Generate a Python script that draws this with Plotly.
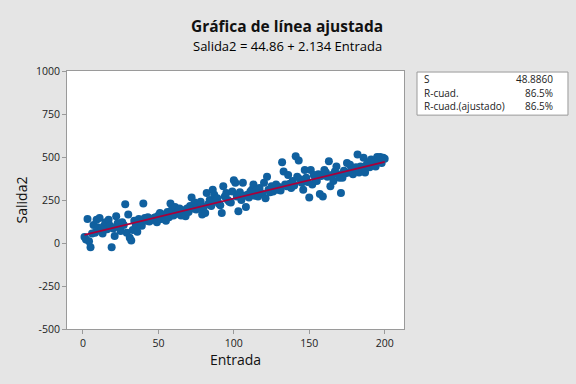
import plotly.graph_objects as go

# ---- data ----
entrada = [
    1, 2, 3, 4, 5, 6, 7, 8, 9, 10,
    11, 12, 13, 14, 15, 16, 17, 18, 19, 20,
    21, 22, 23, 24, 25, 26, 27, 28, 29, 30,
    31, 32, 33, 34, 35, 36, 37, 38, 39, 40,
    41, 42, 43, 44, 45, 46, 47, 48, 49, 50,
    51, 52, 53, 54, 55, 56, 57, 58, 59, 60,
    61, 62, 63, 64, 65, 66, 67, 68, 69, 70,
    71, 72, 73, 74, 75, 76, 77, 78, 79, 80,
    81, 82, 83, 84, 85, 86, 87, 88, 89, 90,
    91, 92, 93, 94, 95, 96, 97, 98, 99, 100,
    101, 102, 103, 104, 105, 106, 107, 108, 109, 110,
    111, 112, 113, 114, 115, 116, 117, 118, 119, 120,
    121, 122, 123, 124, 125, 126, 127, 128, 129, 130,
    131, 132, 133, 134, 135, 136, 137, 138, 139, 140,
    141, 142, 143, 144, 145, 146, 147, 148, 149, 150,
    151, 152, 153, 154, 155, 156, 157, 158, 159, 160,
    161, 162, 163, 164, 165, 166, 167, 168, 169, 170,
    171, 172, 173, 174, 175, 176, 177, 178, 179, 180,
    181, 182, 183, 184, 185, 186, 187, 188, 189, 190,
    191, 192, 193, 194, 195, 196, 197, 198, 199, 200,
]
salida2 = [
    35, 20, 140, 10, -25, 55, 105, 60, 135, 90,
    145, 70, 55, 100, 120, 80, 135, 100, -25, 85,
    40, 155, 115, 90, 70, 120, 105, 225, 60, 165,
    30, 15, 75, 130, 105, 65, 140, 120, 100, 230,
    145, 130, 150, 125, 140, 135, 145, 150, 120, 160,
    175, 140, 155, 165, 130, 180, 150, 230, 195, 160,
    210, 170, 185, 200, 160, 190, 175, 155, 200, 180,
    215, 265, 200, 235, 195, 220, 205, 240, 165, 210,
    175, 290, 225, 250, 215, 310, 280, 245, 260, 230,
    220, 175, 330, 270, 290, 250, 240, 235, 300, 365,
    350, 270, 185, 295, 250, 350, 275, 210, 280, 265,
    300, 310, 340, 275, 305, 270, 320, 290, 285, 350,
    260, 385, 310, 295, 330, 300, 320, 340, 310, 325,
    305, 470, 415, 340, 330, 395, 345, 320, 360, 335,
    505, 385, 480, 370, 350, 310, 425, 380, 355, 265,
    425, 340, 395, 375, 360, 400, 285, 390, 270, 425,
    410, 385, 475, 330, 395, 360, 415, 445, 400, 380,
    290, 380, 420, 405, 465, 410, 455, 425, 400, 430,
    440, 515, 410, 445, 430, 495, 410, 455, 470, 440,
    485, 455, 470, 445, 500, 480, 500, 465, 495, 490,
]
intercept = 44.86
slope = 2.134
stat_labels = ["S", "R-cuad.", "R-cuad.(ajustado)"]
stat_values = ["48.8860", "86.5%", "86.5%"]
x_ticks = [0, 50, 100, 150, 200]
y_ticks = [-500, -250, 0, 250, 500, 750, 1000]
y_tick_text = ["-500", "-250", "0", "250", "500", "750", "1000"]

FONT = "Open Sans"
fig = go.Figure()

fig.add_trace(go.Scatter(
    x=entrada, y=salida2, mode="markers",
    marker=dict(size=8, color="#10609f", line=dict(width=0)),
    showlegend=False, hoverinfo="skip",
))
x0, x1 = min(entrada), max(entrada)
fig.add_trace(go.Scatter(
    x=[x0, x1], y=[intercept + slope * x0, intercept + slope * x1],
    mode="lines", line=dict(color="#a8003a", width=1.8),
    showlegend=False, hoverinfo="skip",
))

axis_common = dict(
    showgrid=False, zeroline=False, showline=True, linecolor="#9a9a9a",
    linewidth=1, mirror=True, ticks="outside", ticklen=4, tickcolor="#9a9a9a",
    tickfont=dict(family=FONT, size=10.5, color="#222222"), automargin=False,
)
fig.update_xaxes(
    range=[-10.6, 212.8], tickvals=x_ticks,
    title=dict(text="Entrada", font=dict(family=FONT, size=14, color="#111111"), standoff=4),
    **axis_common,
)
fig.update_yaxes(
    range=[-500, 1000], tickvals=y_ticks, ticktext=y_tick_text,
    title=dict(text="Salida2", font=dict(family=FONT, size=14, color="#111111"), standoff=4),
    **axis_common,
)

shapes = [dict(type="rect", xref="paper", yref="paper",
               x0=1.0386, x1=1.4866, y0=0.829, y1=0.996,
               line=dict(color="#9a9a9a", width=1), fillcolor="white")]
annotations = [
    dict(text="<b>Gráfica de línea ajustada</b>", xref="paper", yref="paper",
         x=0.654, y=1.0, yshift=45, xanchor="center", yanchor="middle", showarrow=False,
         font=dict(family=FONT, size=15.5, color="#111111")),
    dict(text="Salida2 = 44.86 + 2.134 Entrada", xref="paper", yref="paper",
         x=0.654, y=1.0, yshift=25, xanchor="center", yanchor="middle", showarrow=False,
         font=dict(family=FONT, size=13, color="#000000")),
]
row_y = [0.970, 0.915, 0.863]
for lab, val, ry in zip(stat_labels, stat_values, row_y):
    annotations.append(dict(text=lab, xref="paper", yref="paper", x=1.054, y=ry,
                            xanchor="left", yanchor="middle", showarrow=False,
                            font=dict(family=FONT, size=10, color="#222222")))
    annotations.append(dict(text=val, xref="paper", yref="paper", x=1.448, y=ry,
                            xanchor="right", yanchor="middle", showarrow=False,
                            font=dict(family=FONT, size=10, color="#222222")))

fig.update_layout(
    width=576, height=384,
    margin=dict(l=67, r=172, t=71, b=55),
    paper_bgcolor="#e5e5e5", plot_bgcolor="white",
    shapes=shapes, annotations=annotations,
)

fig.write_html("out.html", config={"displayModeBar": False},
               post_script="document.body.style.margin='0';document.body.style.overflow='hidden';")
